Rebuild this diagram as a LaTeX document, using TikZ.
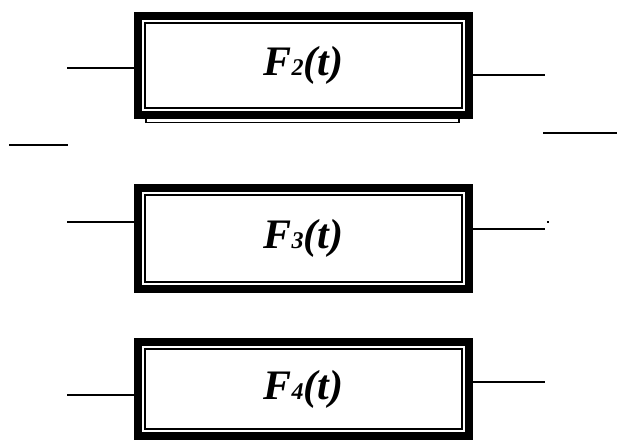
\documentclass[tikz,border=0pt]{standalone}
\usepackage{fontspec}
\setmainfont{Liberation Serif}
\usetikzlibrary{calc}
\tikzset{
  blk/.style={draw,fill=white,line width=8pt,inner sep=0pt,
    font=\fontsize{42}{44}\selectfont\bfseries\itshape},
  wire/.style={line width=1.5pt},
  rim/.style={line width=1.3pt}
}
\newcommand{\Fname}[1]{F{\fontsize{24}{26}\selectfont #1}(t)}
\newcommand{\innerRim}[1]{
  \draw[rim] ($(#1.north west)+(11,11)$) rectangle ($(#1.south east)+(-11,-11)$);
}

\begin{document}
\begin{tikzpicture}[x=1pt,y=-1pt]
  \useasboundingbox (0,0) rectangle (617,441);

  % shadow strip under the first block
  \draw[line width=1.6pt,fill=white] (146,115) rectangle (459,122.5);

  % blocks
  \node[blk,minimum width=331pt,minimum height=99pt]  (f2) at (303.5,65.5) {\Fname{2}};
  \node[blk,minimum width=331pt,minimum height=101pt] (f3) at (303.5,238.5) {\Fname{3}};
  \node[blk,minimum width=331pt,minimum height=94pt]  (f4) at (303.5,389) {\Fname{4}};
  \innerRim{f2}
  \innerRim{f3}
  \innerRim{f4}

  % wire ends
  \coordinate (in2) at (67,68);
  \coordinate (out2) at (545,75);
  \coordinate (in3) at (67,222);
  \coordinate (out3) at (545,229);
  \coordinate (in4) at (67,395);
  \coordinate (out4) at (545,382);

  \draw[wire] (in2) -- (in2 -| f2.west);
  \draw[wire] (f2.east |- out2) -- (out2);
  \draw[wire] (in3) -- (in3 -| f3.west);
  \draw[wire] (f3.east |- out3) -- (out3);
  \draw[wire] (in4) -- (in4 -| f4.west);
  \draw[wire] (f4.east |- out4) -- (out4);

  % loose strokes
  \coordinate (la) at (9,145);
  \coordinate (lb) at (68,145);
  \coordinate (ra) at (543,133);
  \coordinate (rb) at (617,133);
  \draw[wire] (la) -- (lb);
  \draw[line width=2pt] (ra) -- (rb);
  \fill (547,221) rectangle (549,223);
\end{tikzpicture}
\end{document}
